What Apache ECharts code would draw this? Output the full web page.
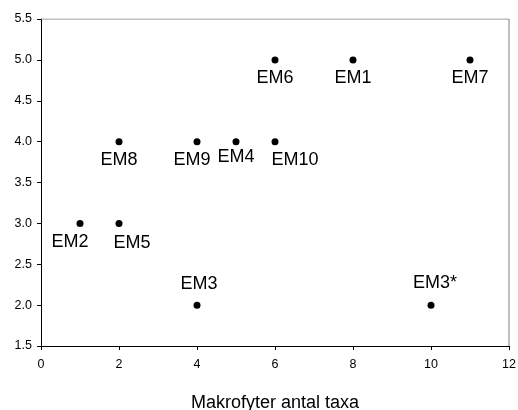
<!DOCTYPE html>
<html>
<head>
<meta charset="utf-8">
<script src="https://cdn.jsdelivr.net/npm/echarts@6/dist/echarts.min.js"></script>
<style>
  html, body { margin: 0; padding: 0; background: #fff; }
  #chart { width: 518px; height: 410px; }
</style>
</head>
<body>
<div id="chart"></div>
<script>
    // data
    const sites = ['EM6', 'EM1', 'EM7', 'EM8', 'EM9', 'EM4', 'EM10', 'EM2', 'EM5', 'EM3', 'EM3*'];
    const taxa = [6, 8, 11, 2, 4, 5, 6, 1, 2, 4, 10];
    const values = [5, 5, 5, 4, 4, 4, 4, 3, 3, 2, 2];
    const xTicks = [0, 2, 4, 6, 8, 10, 12];
    const yTicks = [1.5, 2.0, 2.5, 3.0, 3.5, 4.0, 4.5, 5.0, 5.5];

    // where each label sits relative to its dot
    const labelPlace = {
        'EM9': { position: 'bottom', offset: [-5, 0] },
        'EM4': { position: 'bottom', offset: [0, -3] },
        'EM10': { position: 'bottom', offset: [20, 0] },
        'EM2': { position: 'bottom', offset: [-10, 0] },
        'EM5': { position: 'bottom', offset: [13, 1] },
        'EM3': { position: 'top', offset: [2, -3] },
        'EM3*': { position: 'top', offset: [4, -4] }
    };

    const font = 'Liberation Sans, Arial, sans-serif';
    const myChart = echarts.init(document.getElementById('chart'), null, { renderer: 'canvas' });

    const points = sites.map((name, i) => {
        const place = labelPlace[name] || { position: 'bottom', offset: [0, 0] };
        return {
            name: name,
            value: [taxa[i], values[i]],
            label: { position: place.position, offset: place.offset }
        };
    });

    myChart.setOption({
        animation: false,
        grid: { left: 41, right: 9, top: 19, bottom: 64, containLabel: false, outerBoundsMode: 'none' },
        xAxis: {
            type: 'value',
            min: 0,
            max: 12,
            interval: 2,
            name: 'Makrofyter antal taxa',
            nameLocation: 'middle',
            nameGap: 48,
            nameTextStyle: { color: '#000', fontSize: 18, fontFamily: font },
            axisLine: { show: true, onZero: false, lineStyle: { color: '#000', width: 1 } },
            axisTick: { show: true, length: 4, lineStyle: { color: '#000' } },
            axisLabel: {
                color: '#000', fontSize: 12.5, fontFamily: font, margin: 12,
                formatter: v => xTicks.includes(v) ? String(v) : ''
            },
            splitLine: { show: false }
        },
        yAxis: {
            type: 'value',
            min: 1.5,
            max: 5.5,
            interval: 0.5,
            axisLine: { show: true, onZero: false, lineStyle: { color: '#000', width: 1 } },
            axisTick: { show: true, length: 4, lineStyle: { color: '#000' } },
            axisLabel: {
                color: '#000', fontSize: 12.5, fontFamily: font, margin: 9,
                formatter: v => {
                    const t = yTicks.find(y => Math.abs(y - v) < 1e-6);
                    return t === undefined ? '' : t.toFixed(1);
                }
            },
            splitLine: { show: false }
        },
        series: [
            {
                type: 'scatter',
                symbol: 'circle',
                symbolSize: 7,
                itemStyle: { color: '#000', opacity: 1 },
                label: {
                    show: true,
                    formatter: '{b}',
                    color: '#000',
                    fontSize: 18,
                    fontFamily: font,
                    distance: 6
                },
                data: points
            },
            {
                // gray frame on top and right
                type: 'line',
                silent: true,
                symbol: 'none',
                lineStyle: { color: '#808080', width: 1 },
                data: [[0, 5.5], [12, 5.5], [12, 1.5]]
            }
        ]
    });
</script>
</body>
</html>
